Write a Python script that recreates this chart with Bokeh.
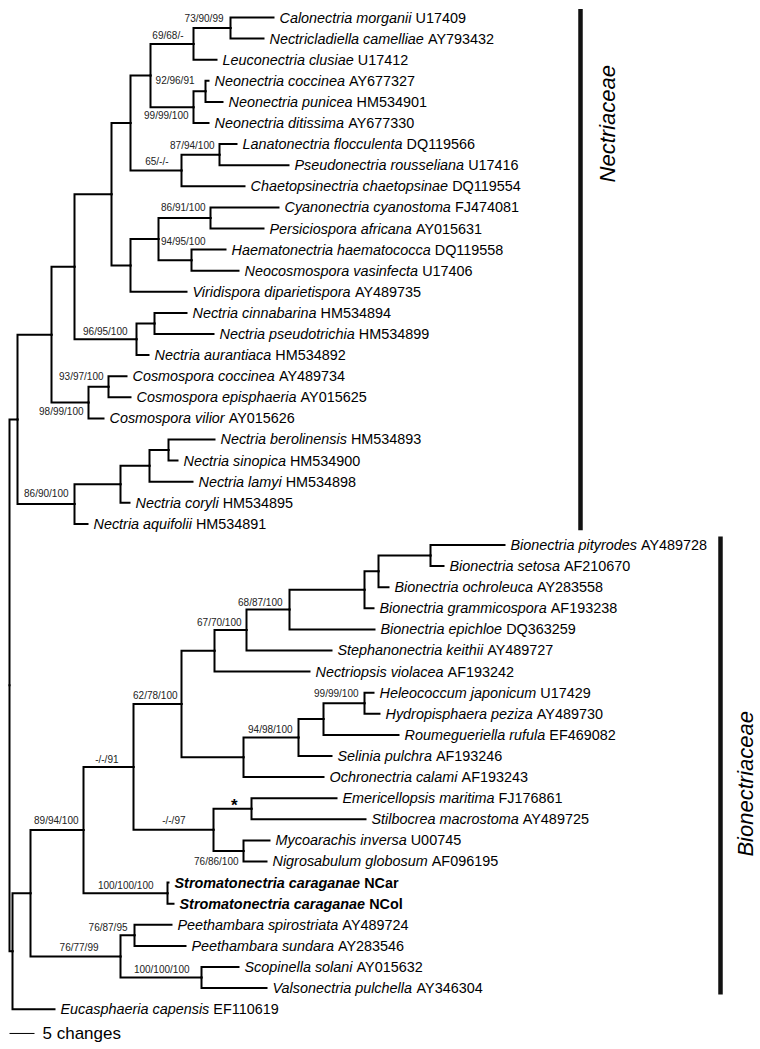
from bokeh.plotting import figure
from bokeh.models import ColumnDataSource, Range1d
from bokeh.core.properties import value
from bokeh.embed import file_html
from bokeh.resources import INLINE

# ---------------- data ----------------
taxon = [
    "Calonectria morganii", "Nectricladiella camelliae", "Leuconectria clusiae",
    "Neonectria coccinea", "Neonectria punicea", "Neonectria ditissima",
    "Lanatonectria flocculenta", "Pseudonectria rousseliana", "Chaetopsinectria chaetopsinae",
    "Cyanonectria cyanostoma", "Persiciospora africana", "Haematonectria haematococca",
    "Neocosmospora vasinfecta", "Viridispora diparietispora", "Nectria cinnabarina",
    "Nectria pseudotrichia", "Nectria aurantiaca", "Cosmospora coccinea",
    "Cosmospora episphaeria", "Cosmospora vilior", "Nectria berolinensis",
    "Nectria sinopica", "Nectria lamyi", "Nectria coryli", "Nectria aquifolii",
    "Bionectria pityrodes", "Bionectria setosa", "Bionectria ochroleuca",
    "Bionectria grammicospora", "Bionectria epichloe", "Stephanonectria keithii",
    "Nectriopsis violacea", "Heleococcum japonicum", "Hydropisphaera peziza",
    "Roumegueriella rufula", "Selinia pulchra", "Ochronectria calami",
    "Emericellopsis maritima", "Stilbocrea macrostoma", "Mycoarachis inversa",
    "Nigrosabulum globosum", "Stromatonectria caraganae", "Stromatonectria caraganae",
    "Peethambara spirostriata", "Peethambara sundara", "Scopinella solani",
    "Valsonectria pulchella", "Eucasphaeria capensis",
]
accession = [
    "U17409", "AY793432", "U17412", "AY677327", "HM534901", "AY677330",
    "DQ119566", "U17416", "DQ119554", "FJ474081", "AY015631", "DQ119558",
    "U17406", "AY489735", "HM534894", "HM534899", "HM534892", "AY489734",
    "AY015625", "AY015626", "HM534893", "HM534900", "HM534898", "HM534895",
    "HM534891", "AY489728", "AF210670", "AY283558", "AF193238", "DQ363259",
    "AY489727", "AF193242", "U17429", "AY489730", "EF469082", "AF193246",
    "AF193243", "FJ176861", "AY489725", "U00745", "AF096195", "NCar", "NCol",
    "AY489724", "AY283546", "AY015632", "AY346304", "EF110619",
]
new_taxa = ["Stromatonectria caraganae"]

# parent node and branch length (changes) of every terminal, in order
leaf_parent = ["A", "A", "B", "D", "D", "E", "F", "F", "G", "I", "I", "J", "J", "L",
               "M", "M", "N", "U2", "U2", "U", "W3", "W3", "W2", "W1", "W",
               "Q", "Q", "R", "S", "Y7", "Y6", "Y4", "HH", "HH", "Y10", "Y8", "Y5",
               "Y11", "Y11", "Y12", "Y12", "Strom", "Strom", "PE", "PE", "SV", "SV", "Z"]
leaf_length = [8.6, 6.6, 4.6, 0.6, 3.4, 3.0, 3.4, 13.8, 12.6, 13.6, 10.6, 6.8, 9.4, 11.2,
               6.4, 11.8, 2.4, 3.6, 4.4, 3.0, 9.2, 1.8, 8.6, 1.8, 2.6,
               14.8, 2.6, 2.0, 1.8, 17.0, 17.0, 19.0, 1.8, 3.0, 15.0, 6.6, 16.0,
               17.0, 22.8, 5.2, 4.6, 0.2, 1.2, 7.4, 10.2, 7.4, 13.0, 8.4]

# internal nodes
node_name = ["R0", "V", "T", "O", "P", "H", "C", "B", "A", "E", "D", "G", "F", "L", "K",
             "I", "J", "N", "M", "U", "U2", "W", "W1", "W2", "W3", "Z", "X", "Y", "Y1",
             "Y2", "Y4", "Y6", "Y7", "S", "R", "Q", "Y5", "Y8", "Y10", "HH", "Y3", "Y11",
             "Y12", "Strom", "PS", "PE", "SV"]
node_parent = [None, "R0", "V", "T", "O", "P", "H", "C", "B", "C", "E", "H", "G", "P", "L",
               "K", "K", "O", "N", "T", "U", "V", "W", "W1", "W2", "R0", "Z", "X", "Y",
               "Y1", "Y2", "Y4", "Y6", "Y7", "S", "R", "Y2", "Y5", "Y8", "Y10", "Y1", "Y3",
               "Y3", "Y", "X", "PS", "PS"]
node_length = [0.0, 1.6, 6.8, 4.6, 7.4, 3.8, 4.0, 8.6, 7.4, 8.6, 2.4, 10.2, 7.6, 3.8, 5.6,
               10.4, 6.6, 12.4, 3.6, 7.4, 4.0, 11.4, 9.2, 5.8, 3.8, 0.6, 3.6, 10.6, 10.0,
               9.6, 6.6, 6.4, 8.6, 15.0, 2.8, 10.4, 12.4, 11.0, 5.0, 8.2, 16.0, 7.6,
               6.0, 16.8, 18.0, 2.8, 16.2]

# support values (MP bootstrap / ML bootstrap / posterior probability)
support_node = ["A", "B", "D", "E", "F", "G", "I", "J", "N", "U2", "U", "W",
                "Y7", "Y6", "Y2", "Y8", "HH", "Y1", "Y3", "Y11", "Y12", "Y",
                "Strom", "PE", "PS", "SV"]
support_text = ["73/90/99", "69/68/-", "92/96/91", "99/99/100", "87/94/100", "65/-/-",
                "86/91/100", "94/95/100", "96/95/100", "93/97/100", "98/99/100", "86/90/100",
                "68/87/100", "67/70/100", "62/78/100", "94/98/100", "99/99/100", "-/-/91",
                "-/-/97", "*", "76/86/100", "89/94/100", "100/100/100", "76/87/95",
                "76/77/99", "100/100/100"]

clade_name = ["Nectriaceae", "Bionectriaceae"]
clade_first = [0, 25]
clade_last = [24, 46]
scale_changes = 5

# ---------------- layout (positions / styles) ----------------
support_offset = {  # (dx, dy) in screen px of label's right edge / centre from its node
    "A": (-7, -9.5), "B": (-10, -8), "D": (-11, -10.5), "E": (-5, 8), "F": (-5, -9.5),
    "G": (-13, -9), "I": (-5, -10.5), "J": (14, -18.5), "N": (-9, -8), "U2": (-5, -10),
    "U": (-5, 9), "W": (-6, -11), "Y7": (-7, -7.5), "Y6": (-5, -8), "Y2": (-4, -8.5),
    "Y8": (-6, -8.5), "HH": (-6, -9.5), "Y1": (-15, -7.5), "Y3": (-28, -9.5),
    "Y11": (-14, -3), "Y12": (-5, 11), "Y": (-5, -10), "Strom": (-14, -8),
    "PE": (-7, -7.5), "PS": (-22, -9), "SV": (-12, -8),
}
clade_bar_x = [114.2, 142.2]
clade_label_dx = [27, 25]
clade_label_frac = [0.22, 0.54]
FONT = "Liberation Sans"
FS_LEAF = 14.4
FS_SUP = 10

W_REG = dict(zip("abcdefghijklmnopqrstuvwxyz",
                 [556, 556, 500, 556, 556, 278, 556, 556, 222, 222, 500, 222, 833, 556, 556,
                  556, 556, 333, 500, 278, 556, 500, 722, 500, 500, 500]))
W_REG.update(zip("ABCDEFGHIJKLMNOPQRSTUVWXYZ",
                 [667, 667, 722, 722, 667, 611, 778, 722, 278, 500, 667, 556, 833, 722, 778,
                  667, 778, 722, 667, 611, 722, 667, 944, 667, 667, 611]))
W_REG[" "] = 278
W_BOLD = dict(zip("abcdefghijklmnopqrstuvwxyz",
                  [556, 611, 556, 611, 556, 333, 611, 611, 278, 278, 556, 278, 889, 611, 611,
                   611, 611, 389, 556, 333, 611, 556, 778, 556, 556, 500]))
W_BOLD.update(zip("ABCDEFGHIJKLMNOPQRSTUVWXYZ",
                  [722, 722, 722, 722, 667, 611, 778, 722, 278, 556, 722, 611, 833, 722, 778,
                   667, 778, 722, 667, 611, 722, 667, 944, 667, 667, 611]))
W_BOLD[" "] = 278


def text_width(s, bold=False):
    tab = W_BOLD if bold else W_REG
    return sum(tab.get(ch, 556) for ch in s) / 1000.0


# ---------------- tree geometry ----------------
parent, blen = {}, {}
for i, (pa, l) in enumerate(zip(leaf_parent, leaf_length)):
    parent[i], blen[i] = pa, l
for n, pa, l in zip(node_name, node_parent, node_length):
    parent[n], blen[n] = pa, l
children = {}
for k, pa in parent.items():
    if pa is not None:
        children.setdefault(pa, []).append(k)

depth = {}


def get_depth(k):
    if k not in depth:
        pa = parent[k]
        depth[k] = 0.0 if pa is None else get_depth(pa) + blen[k]
    return depth[k]


ypos = {}


def get_y(k):
    if isinstance(k, int):
        return float(k)
    if k not in ypos:
        ys = sorted(get_y(c) for c in children[k])
        ypos[k] = (ys[0] + ys[-1]) / 2.0
    return ypos[k]


for k in parent:
    get_depth(k)
    get_y(k)

ex, ey = [], []
for k, pa in parent.items():
    if pa is None:
        continue
    ex.append([depth[pa], depth[pa], depth[k]])
    ey.append([get_y(pa), get_y(k), get_y(k)])

n_leaf = len(taxon)
p = figure(width=760, height=1049, output_backend="svg", toolbar_location=None,
           x_range=Range1d(-1.8, 150.2), y_range=Range1d(48.91, -0.8057),
           min_border=0, min_border_left=0, min_border_right=0,
           min_border_top=0, min_border_bottom=0)
p.axis.visible = False
p.xgrid.visible = False
p.ygrid.visible = False
p.outline_line_color = None
p.background_fill_color = "white"
p.border_fill_color = "white"

p.multi_line(xs=ex, ys=ey, line_color="black", line_width=2, line_join="miter",
             line_cap="square")

# leaf labels
norm_src = dict(x=[], y=[], name=[], acc=[], accoff=[])
bold_src = dict(x=[], y=[], name=[], acc=[], accoff=[])
for i in range(n_leaf):
    b = taxon[i] in new_taxa
    d = bold_src if b else norm_src
    d["x"].append(depth[i])
    d["y"].append(float(i))
    d["name"].append(taxon[i])
    d["acc"].append(accession[i])
    d["accoff"].append(6 + text_width(taxon[i] + " ", b) * FS_LEAF)

for d, bold in ((norm_src, False), (bold_src, True)):
    src = ColumnDataSource(d)
    p.text(x="x", y="y", text="name", source=src, x_offset=6, text_font=value(FONT),
           text_font_size=f"{FS_LEAF}px",
           text_font_style="bold italic" if bold else "italic",
           text_baseline="middle", text_align="left", text_color="black")
    p.text(x="x", y="y", text="acc", source=src, x_offset="accoff", text_font=value(FONT),
           text_font_size=f"{FS_LEAF}px", text_font_style="bold" if bold else "normal",
           text_baseline="middle", text_align="left", text_color="black")

# support values
sx, sy, st, sdx, sdy = [], [], [], [], []
star = dict(x=[], y=[], t=[], dx=[], dy=[])
for n, t in zip(support_node, support_text):
    dx, dy = support_offset[n]
    if t == "*":
        star["x"].append(depth[n]); star["y"].append(get_y(n)); star["t"].append(t)
        star["dx"].append(dx); star["dy"].append(dy)
    else:
        sx.append(depth[n]); sy.append(get_y(n)); st.append(t); sdx.append(dx); sdy.append(dy)
p.text(x="x", y="y", text="t", x_offset="dx", y_offset="dy",
       source=ColumnDataSource(dict(x=sx, y=sy, t=st, dx=sdx, dy=sdy)),
       text_font=value(FONT), text_font_size=f"{FS_SUP}px", text_align="right",
       text_baseline="middle", text_color="#222222")
p.text(x="x", y="y", text="t", x_offset="dx", y_offset="dy", source=ColumnDataSource(star),
       text_font=value(FONT), text_font_size="17px", text_font_style="bold",
       text_align="right", text_baseline="middle", text_color="black")

# clade bars
for name, f, l, bx, ldx, frac in zip(clade_name, clade_first, clade_last, clade_bar_x,
                                     clade_label_dx, clade_label_frac):
    y0, y1 = f - 0.4, l + 0.3
    p.line(x=[bx, bx], y=[y0, y1], line_color="#111111", line_width=4.5)
    p.text(x=[bx], y=[y0 + frac * (y1 - y0)], text=[name], x_offset=ldx, angle=1.5708,
           text_font=value(FONT), text_font_size="22px", text_font_style="italic",
           text_align="center", text_baseline="middle", text_color="black")

# scale bar
ys_bar = n_leaf - 1 + 1.15
p.line(x=[0, scale_changes], y=[ys_bar, ys_bar], line_color="black", line_width=1)
p.text(x=[scale_changes], y=[ys_bar], text=[f"{scale_changes} changes"], x_offset=8,
       text_font=value(FONT), text_font_size="17px", text_baseline="middle",
       text_align="left", text_color="black")

open("out.html", "w").write(file_html(p, INLINE))
